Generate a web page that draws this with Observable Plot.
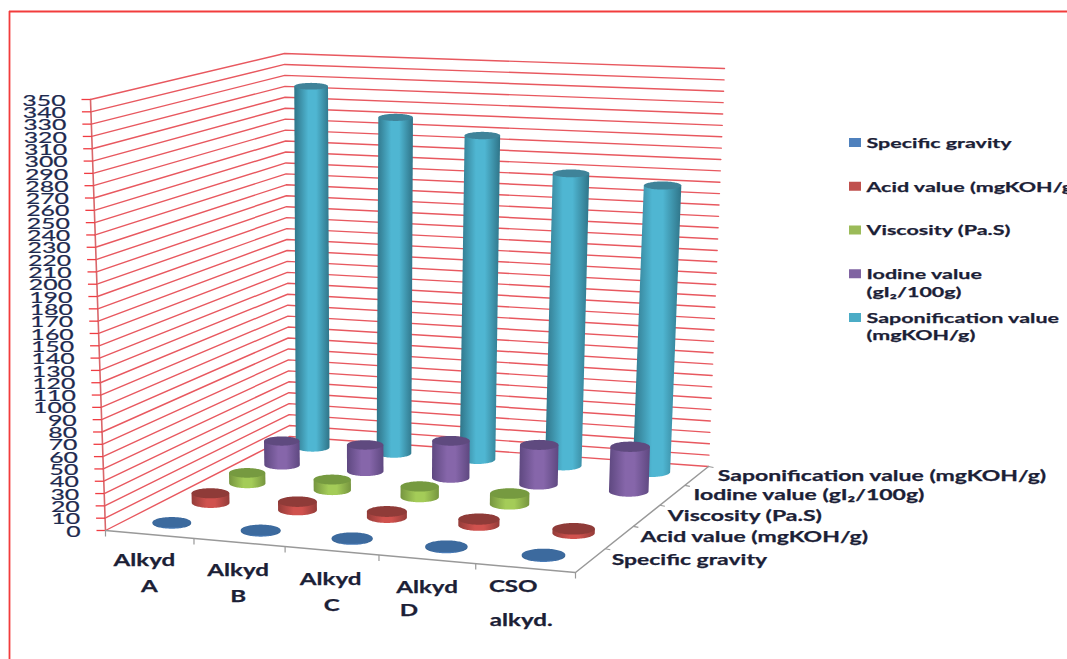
<!DOCTYPE html>
<html>
<head>
<meta charset="utf-8">
<script src="https://cdn.jsdelivr.net/npm/d3@7"></script>
<script src="https://cdn.jsdelivr.net/npm/@observablehq/plot@0.6"></script>
<style>
  html, body { margin: 0; padding: 0; background: #fff; overflow: hidden; }
  svg { display: block; }
</style>
</head>
<body>
<div id="chart"></div>
<script>
// Chart values
const categories = ["Alkyd A", "Alkyd B", "Alkyd C", "Alkyd D", "CSO alkyd."];
const categoryLines = [["Alkyd", "A"], ["Alkyd", "B"], ["Alkyd", "C"], ["Alkyd", "D"], ["CSO", "alkyd."]];
const seriesNames = ["Specific gravity", "Acid value (mgKOH/g)", "Viscosity (Pa.S)", "Iodine value (gI₂/100g)", "Saponification value (mgKOH/g)"];
const legendLines = [["Specific gravity"], ["Acid value (mgKOH/g)"], ["Viscosity (Pa.S)"], ["Iodine value", "(gI₂/100g)"], ["Saponification value", "(mgKOH/g)"]];
const specificGravity = [0.9, 0.9, 0.9, 0.9, 0.9];
const acidValue = [8, 7, 5, 5, 3.5];
const viscosity = [9, 9, 9, 9, null];
const iodineValue = [21, 23, 32, 34, 38];
const saponificationValue = [325, 300, 287, 257, 250];
const valueTicks = d3.range(0, 351, 10);

// Colours of each series: flat, rim shade, bright and dark side of the cylinder
const seriesColors = ["#4f81bd", "#c0504d", "#9bbb59", "#8064a2", "#4bacc6"];
const rimColors = ["#3c6a9e", "#8f3b38", "#769a40", "#5f4a7f", "#3f8399"];
const brightColors = ["#4a7cb8", "#d0524e", "#a4cc58", "#8666aa", "#4fb6d2"];
const darkColors = ["#35608f", "#943c39", "#76953f", "#5e4880", "#2f7488"];

// Perspective box: floor and ceiling quads, in the order
// front-left, front-right, back-right, back-left
const floorQuad = [[105, 530], [575, 572], [708, 466], [289, 436]];
const ceilingQuad = [[90, 99], [589, 121], [724, 68], [284, 53]];
const maxValue = 350;

// Unit square to quadrilateral homography
function squareToQuad([[x0, y0], [x1, y1], [x2, y2], [x3, y3]]) {
  const dx1 = x1 - x2, dx2 = x3 - x2, sx = x0 - x1 + x2 - x3;
  const dy1 = y1 - y2, dy2 = y3 - y2, sy = y0 - y1 + y2 - y3;
  const det = dx1 * dy2 - dx2 * dy1;
  const g = (sx * dy2 - dx2 * sy) / det;
  const h = (dx1 * sy - sx * dy1) / det;
  const a = x1 - x0 + g * x1, b = x3 - x0 + h * x3, c = x0;
  const d = y1 - y0 + g * y1, e = y3 - y0 + h * y3, f = y0;
  return (u, v) => {
    const q = g * u + h * v + 1;
    return [(a * u + b * v + c) / q, (d * u + e * v + f) / q];
  };
}
const floorAt = squareToQuad(floorQuad);
const ceilingAt = squareToQuad(ceilingQuad);

// Project (category position, series position, value) onto the page
function project(c, s, w) {
  const [fx, fy] = floorAt(c / categories.length, s / seriesNames.length);
  const [tx, ty] = ceilingAt(c / categories.length, s / seriesNames.length);
  const k = w / maxValue;
  return [fx + (tx - fx) * k, fy + (ty - fy) * k];
}

// Cylinder outlines, derived from the projected centre of each base and top
const halfWidth = 0.21;
const rowWidth = [1.05, 1.05, 1.03, 1.03, 1];
const rowShift = [0.03, 0.03, 0.03, 0.03, 0];
const rowLean = [0, 0, 0, 0, 2.5];
const tilt = (y) => 0.2 + 0.075 * (y - 90) / 440;
const steps = d3.range(0, 49).map((i) => Math.PI * i / 48);
const seriesValues = [specificGravity, acidValue, viscosity, iodineValue, saponificationValue];

const cylinders = seriesValues.flatMap((values, s) =>
  values.flatMap((value, c) => {
    if (value == null) return [];
    const mid = c + 0.5 + rowShift[s];
    const base = project(mid, s + 0.5, 0);
    const top = project(mid, s + 0.5, value);
    top[0] += rowLean[s] * value / maxValue;
    const rx = rowWidth[s] * (project(mid + halfWidth, s + 0.5, 0)[0] - project(mid - halfWidth, s + 0.5, 0)[0]) / 2;
    return [{series: s, category: c, value, base, top, rx, baseRy: rx * tilt(base[1]), topRy: rx * tilt(top[1])}];
  })
);

const bodyPoints = (s) => cylinders.filter((d) => d.series === s).flatMap((d) =>
  steps.map((t) => ({
    id: d.category,
    x1: d.top[0] - d.rx * Math.cos(t),
    y1: d.top[1],
    x2: d.base[0] - d.rx * Math.cos(t),
    y2: d.base[1] + d.baseRy * Math.sin(t)
  }))
);
const rimPoints = (s) => cylinders.filter((d) => d.series === s).flatMap((d) =>
  steps.map((t) => ({
    id: d.category,
    x: d.top[0] - d.rx * Math.cos(t),
    y1: d.top[1] - d.topRy * Math.sin(t),
    y2: d.top[1] + d.topRy * Math.sin(t)
  }))
);

// Wall gridlines and axis pieces
const gridPoints = valueTicks.flatMap((w) => [
  [0, 0], [0, seriesNames.length], [categories.length, seriesNames.length]
].map(([c, s]) => {
  const [x, y] = project(c, s, w);
  return {w, x, y};
}));
const frontEdge = [[0, 0], [categories.length, 0], [categories.length, seriesNames.length]].map(([c, s]) => project(c, s, 0));
const leftEdge = valueTicks.map((w) => project(0, 0, w));
const categoryTicks = d3.range(0, categories.length + 1).map((c) => project(c, 0, 0));
const seriesTicks = d3.range(1, seriesNames.length + 1).map((s) => project(categories.length, s, 0));

// Text helpers: the type is set wider than the face's natural proportions
const fontFamily = "Lato, 'Open Sans', sans-serif";
const ctx = document.createElement("canvas").getContext("2d");
function stretched(k, size) {
  return (index, scales, values, dimensions, context, next) => {
    const g = next(index, scales, values, dimensions, context);
    ctx.font = `bold ${size}px Lato`;
    d3.select(g).selectAll("text").each(function () {
      this.setAttribute("textLength", ctx.measureText(this.textContent).width * k);
      this.setAttribute("lengthAdjust", "spacingAndGlyphs");
    });
    return g;
  };
}
const ink = "#1b2036";

const categoryLabelRows = categoryLines.flatMap((lines, c) => {
  const [x, y] = project(c + 0.5, 0, 0);
  const shift = [[-5, 5, 26, 52], [-1, 0, 28, 54], [-1, 1, 29, 55], [0, -18, 28, 51], [-12, 8, 19, 53]][c];
  return [
    {text: lines[0], x: x + shift[0], y: y + shift[2]},
    {text: lines[1], x: x + shift[0] + shift[1], y: y + shift[3]}
  ];
});
const seriesLabelRows = seriesNames.map((text, s) => {
  const [x, y] = project(categories.length, s + 0.5, 0);
  return {text, x: x + 21, y};
});
const valueLabelRows = valueTicks.map((w) => {
  const [x, y] = project(0, 0, w);
  return {text: String(w), x: x - 25, y: y + 1};
});

// Legend, evenly spaced down the right-hand side
const legendY = (i) => 143 + i * 43.75;
const legendRows = legendLines.flatMap((lines, i) =>
  lines.map((text, n) => ({text, x: 866, y: legendY(i) + n * 17.5}))
);
const legendSwatches = seriesNames.map((name, i) => ({
  name, color: seriesColors[i], x1: 849, x2: 861, y1: legendY(i) - 5, y2: legendY(i) + 4
}));

// Horizontal shading used on the cylinder sides
const gradientDefs = () => {
  const svgNS = "http://www.w3.org/2000/svg";
  const defs = document.createElementNS(svgNS, "defs");
  seriesColors.forEach((_, i) => {
    const grad = document.createElementNS(svgNS, "linearGradient");
    grad.setAttribute("id", `side-${i}`);
    [[0, darkColors[i]], [0.4, brightColors[i]], [0.62, brightColors[i]], [1, darkColors[i]]].forEach(([o, color]) => {
      const stop = document.createElementNS(svgNS, "stop");
      stop.setAttribute("offset", o);
      stop.setAttribute("stop-color", color);
      grad.appendChild(stop);
    });
    defs.appendChild(grad);
  });
  return defs;
};

// Back row first so nearer cylinders overlap those behind them
const cylinderMarks = d3.range(seriesNames.length - 1, -1, -1).flatMap((s) => [
  Plot.area(bodyPoints(s), {x1: "x1", x2: "x2", y1: "y1", y2: "y2", z: "id", fill: `url(#side-${s})`, curve: "linear"}),
  Plot.area(rimPoints(s), {x1: "x", x2: "x", y1: "y1", y2: "y2", z: "id", fill: rimColors[s], curve: "linear"})
]);

const textWeight = {fontFamily, fontWeight: 700, stroke: ink, strokeWidth: 0.25};

const chart = Plot.plot({
  width: 1067,
  height: 659,
  margin: 0,
  style: {background: "#fff"},
  x: {domain: [0, 1067], range: [0, 1067], axis: null},
  y: {domain: [0, 659], range: [0, 659], axis: null},
  marks: [
    gradientDefs,
    // outer border
    Plot.ruleX([9], {y1: 11, y2: 659, stroke: "#f23c3c", strokeWidth: 1.8}),
    Plot.ruleY([11], {x1: 9, x2: 1067, stroke: "#f23c3c", strokeWidth: 1.8}),
    // walls
    Plot.line(gridPoints, {x: "x", y: "y", z: "w", stroke: "#e8585f", strokeWidth: 1.4}),
    Plot.line(leftEdge, {x: (d) => d[0], y: (d) => d[1], stroke: "#d9666a", strokeWidth: 1.6}),
    Plot.link(leftEdge, {x1: (d) => d[0] - 9, x2: (d) => d[0], y1: (d) => d[1], y2: (d) => d[1], stroke: "#f03c42", strokeWidth: 1.3}),
    // floor edges
    Plot.line(frontEdge, {x: (d) => d[0], y: (d) => d[1], stroke: "#999", strokeWidth: 1.5}),
    Plot.link(categoryTicks, {x1: (d) => d[0], x2: (d) => d[0], y1: (d) => d[1], y2: (d) => d[1] + 6, stroke: "#999", strokeWidth: 1.2}),
    Plot.link(seriesTicks, {x1: (d) => d[0], x2: (d) => d[0] + 5, y1: (d) => d[1], y2: (d) => d[1] + 1, stroke: "#999", strokeWidth: 1.2}),
    // cylinders
    ...cylinderMarks,
    // axis text
    Plot.text(valueLabelRows, {x: "x", y: "y", text: "text", textAnchor: "end", fill: "#1e2a4f", stroke: "#1e2a4f", strokeWidth: 0.2, fontFamily, fontWeight: 400, fontSize: 16, render: stretched(1.55, 16)}),
    Plot.text(categoryLabelRows, {x: "x", y: "y", text: "text", ...textWeight, fill: ink, fontSize: 17, render: stretched(1.42, 17)}),
    Plot.text(seriesLabelRows, {x: "x", y: "y", text: "text", textAnchor: "start", ...textWeight, fill: ink, fontSize: 15.5, render: stretched(1.48, 15.5)}),
    // legend
    Plot.rect(legendSwatches, {x1: "x1", x2: "x2", y1: "y1", y2: "y2", fill: "color"}),
    Plot.text(legendRows, {x: "x", y: "y", text: "text", textAnchor: "start", ...textWeight, fill: ink, fontSize: 14, render: stretched(1.53, 14)})
  ]
});
document.getElementById("chart").appendChild(chart);
</script>
</body>
</html>
